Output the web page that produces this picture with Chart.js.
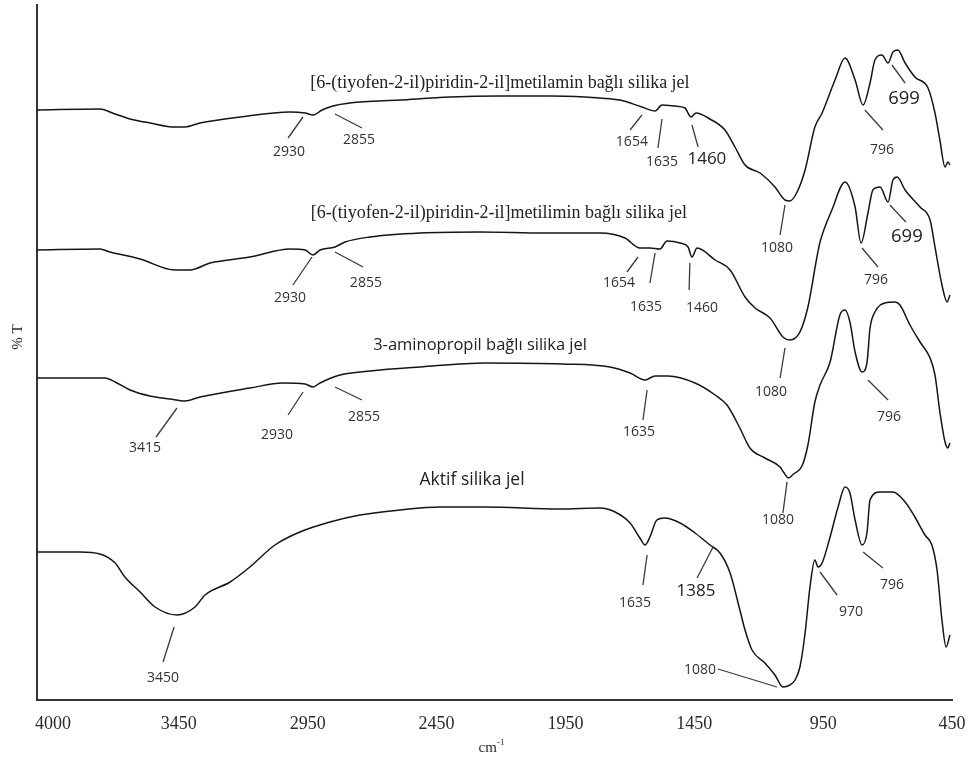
<!DOCTYPE html>
<html>
<head>
<meta charset="utf-8">
<title>FT-IR spektrumları</title>
<script src="https://cdn.jsdelivr.net/npm/chart.js@4.4.1/dist/chart.umd.min.js"></script>
<style>
  html, body { margin: 0; padding: 0; background: #fff; }
  #irChart { display: block; }
</style>
</head>
<body>
<canvas id="irChart" width="970" height="760"></canvas>
<script>
(function() {
'use strict';

// x axis ticks (cm-1)
const xTickValues = [4000, 3450, 2950, 2450, 1950, 1450, 950, 450];

// [6-(tiyofen-2-il)piridin-2-il]metilamin bağlı silika jel  (top trace, offset %T units)
const amineWn = [4000, 3756, 3697, 3639, 3562, 3465, 3426, 3368, 3212, 3018, 2960, 2929, 2894, 2852, 2786, 2592, 2398, 2204, 2010, 1874, 1816, 1738, 1653, 1602, 1575, 1525, 1486, 1463, 1443, 1389, 1331, 1292, 1253, 1195, 1137, 1098, 1079, 1051, 1020, 982, 954, 904, 865, 826, 795, 768, 749, 722, 698, 679, 660, 632, 594, 543, 516, 497, 477, 466, 458];
const amineT  = [118, 118.2, 117.2, 116.2, 115.4, 114.6, 114.6, 115.4, 116.6, 117.6, 117.4, 117, 118, 118.8, 119.4, 120, 120.6, 120.8, 120.8, 120.6, 120.4, 120, 118.6, 117.8, 119, 118.8, 118.4, 116.6, 117.4, 116.2, 114, 110.6, 107, 105.4, 102.6, 100, 99.8, 101.6, 106, 114.6, 117.4, 124, 128.4, 124, 119, 123.4, 128, 129, 127.4, 129.6, 130, 127.4, 124.6, 122.4, 117.4, 112, 106.6, 107.6, 107];

// [6-(tiyofen-2-il)piridin-2-il]metilimin bağlı silika jel
const imineWn = [4000, 3756, 3717, 3600, 3465, 3406, 3329, 3174, 3018, 2960, 2929, 2902, 2844, 2805, 2708, 2514, 2281, 2029, 1816, 1719, 1661, 1622, 1583, 1556, 1505, 1474, 1459, 1439, 1369, 1311, 1253, 1214, 1156, 1106, 1079, 1040, 1009, 974, 962, 916, 865, 826, 803, 776, 757, 729, 698, 679, 663, 632, 574, 535, 516, 489, 469, 458];
const imineT  = [90, 90.2, 89.6, 88.2, 86, 86, 87.4, 88.6, 90.2, 90, 89, 90, 90.6, 91.6, 92.6, 93.4, 93.6, 93.4, 93.4, 92.4, 90.4, 90.4, 90.2, 91.8, 91.4, 90.6, 88.6, 90.4, 88, 86, 80.6, 78.4, 76.4, 72.6, 72, 73.6, 78.6, 88.6, 91.6, 98, 103.6, 98.6, 91.4, 97.4, 102, 102.6, 99.6, 104, 104.6, 102, 98.6, 96, 90.6, 83, 79.6, 81];

// 3-aminopropil bağlı silika jel
const propylWn = [4000, 3736, 3697, 3639, 3562, 3484, 3426, 3368, 3174, 3046, 2960, 2929, 2902, 2824, 2708, 2514, 2262, 1963, 1777, 1699, 1641, 1602, 1552, 1447, 1369, 1323, 1273, 1234, 1176, 1117, 1104, 1084, 1065, 1032, 1009, 982, 962, 923, 885, 865, 846, 826, 799, 780, 768, 749, 710, 671, 652, 613, 574, 535, 516, 497, 477, 466, 458];
const propylT  = [64.4, 64.4, 63.6, 62, 60.8, 60.2, 59.8, 60.6, 62.4, 63.4, 63.2, 62.6, 63.4, 65, 65.8, 66.6, 67.4, 67.2, 66.6, 65.4, 64, 64.8, 64.8, 63.4, 61, 59, 54.4, 50.4, 48.4, 46.6, 45.6, 44.4, 45.2, 46.8, 51, 59.6, 63, 67.6, 77, 78, 75.6, 69.6, 65.6, 67.4, 74.4, 77.6, 79.4, 79.6, 79, 75, 71.6, 68.4, 65, 57.6, 51.6, 50.4, 51.4];

// Aktif silika jel
const activeWn = [4000, 3833, 3756, 3697, 3659, 3600, 3542, 3457, 3387, 3348, 3251, 3174, 3077, 2980, 2863, 2747, 2592, 2436, 2262, 1971, 1816, 1757, 1699, 1661, 1641, 1622, 1595, 1564, 1505, 1447, 1389, 1350, 1311, 1273, 1253, 1226, 1176, 1137, 1106, 1079, 1059, 1040, 1020, 1001, 982, 970, 954, 923, 892, 865, 846, 826, 799, 780, 768, 729, 679, 632, 594, 555, 528, 508, 489, 473, 458];
const activeT  = [29.6, 29.6, 29.2, 27.4, 24.6, 21.6, 18.6, 17, 18.6, 21, 23.6, 26.6, 31, 33.6, 35.6, 37, 38, 38.6, 38.6, 38.2, 38.4, 37.6, 35.4, 32.4, 31, 32.6, 36, 36.4, 35.4, 33.4, 31, 29.4, 25.4, 18, 14, 10, 7.4, 5, 2.6, 3, 4, 6.6, 13.4, 22.6, 28, 26.6, 27.4, 32.6, 38.6, 42.6, 41.4, 36, 31, 33.4, 40, 41.6, 41.6, 39.6, 36.6, 33, 31, 26, 16, 10.6, 13];

// trace names, placed in data units
const seriesNames = [
    { text: '[6-(tiyofen-2-il)piridin-2-il]metilamin bağlı silika jel', at: [2204, 123.4], font: '18px "Liberation Serif"' },
    { text: '[6-(tiyofen-2-il)piridin-2-il]metilimin bağlı silika jel', at: [2208, 97.4], font: '18px "Liberation Serif"' },
    { text: '3-aminopropil bağlı silika jel', at: [2281, 71], font: '16.5px "Open Sans"' },
    { text: 'Aktif silika jel', at: [2312, 44], font: '17.5px "Open Sans"' }
];

// peak labels with leader lines (data units)
const peakNotes = [
    { text: '2930', at: [3022, 109.6], from: [2968, 116.6], to: [3026, 112.4] },
    { text: '2855', at: [2751, 112], from: [2844, 117.2], to: [2739, 114.4] },
    { text: '1654', at: [1692, 111.6], from: [1653, 117], to: [1699, 114] },
    { text: '1635', at: [1575, 107.6], from: [1575, 116.2], to: [1591, 110.4] },
    { text: '1460', at: [1401, 108.2], from: [1459, 115], to: [1435, 110.6], big: true },
    { text: '1080', at: [1129, 90.4], from: [1098, 99], to: [1117, 93] },
    { text: '796', at: [722, 110], from: [788, 118], to: [718, 114] },
    { text: '699', at: [636, 120.2], from: [683, 127], to: [632, 123.4], big: true },

    { text: '2930', at: [3018, 80.4], from: [2933, 88.6], to: [3007, 83] },
    { text: '2855', at: [2724, 83.4], from: [2844, 89.6], to: [2735, 86.6] },
    { text: '1654', at: [1742, 83.4], from: [1668, 88.6], to: [1711, 85.6] },
    { text: '1635', at: [1637, 78.6], from: [1602, 89.4], to: [1622, 83.4] },
    { text: '1460', at: [1420, 78.4], from: [1467, 87.4], to: [1470, 82] },
    { text: '1080', at: [1152, 61.6], from: [1098, 70.4], to: [1117, 64.4] },
    { text: '796', at: [745, 84], from: [799, 90.4], to: [737, 86.6] },
    { text: '699', at: [625, 92.6], from: [691, 99], to: [629, 95.6], big: true },

    { text: '3415', at: [3581, 50.4], from: [3457, 58.4], to: [3538, 52.6] },
    { text: '2930', at: [3069, 53], from: [2968, 61.6], to: [3026, 57] },
    { text: '2855', at: [2731, 56.6], from: [2844, 62.6], to: [2739, 60] },
    { text: '1635', at: [1664, 53.6], from: [1633, 62], to: [1649, 56] },
    { text: '1080', at: [1125, 36], from: [1090, 43.6], to: [1106, 37.4] },
    { text: '796', at: [694, 56.6], from: [776, 64], to: [698, 60] },

    { text: '3450', at: [3511, 4.4], from: [3468, 14.6], to: [3511, 7.6] },
    { text: '1635', at: [1680, 19.4], from: [1633, 29], to: [1649, 23] },
    { text: '1385', at: [1443, 21.8], from: [1377, 30.6], to: [1439, 24.4], big: true },
    { text: '1080', at: [1428, 6], from: [1358, 6.2], to: [1129, 2.6] },
    { text: '970', at: [842, 17.6], from: [962, 25.6], to: [896, 21] },
    { text: '796', at: [683, 23], from: [795, 29.6], to: [718, 26.4] }
];

function toPoints(wn, t) {
    return wn.map((w, i) => ({ x: w, y: t[i] }));
}

function traceDataset(label, wn, t) {
    return {
        label: label,
        data: toPoints(wn, t),
        borderColor: '#151515',
        borderWidth: 1.5,
        pointRadius: 0,
        fill: false,
        cubicInterpolationMode: 'monotone'
    };
}

// axis texts, trace names and peak labels, all placed through the scales
const irLabels = {
    id: 'irLabels',
    afterDraw: function(chart) {
        const ctx = chart.ctx;
        const xs = chart.scales.x;
        const ys = chart.scales.y;
        const area = chart.chartArea;
        const px = p => xs.getPixelForValue(p[0]);
        const py = p => ys.getPixelForValue(p[1]);

        ctx.save();

        // leader lines
        ctx.strokeStyle = '#3a3a3a';
        ctx.lineWidth = 1.3;
        peakNotes.forEach(n => {
            ctx.beginPath();
            ctx.moveTo(px(n.from), py(n.from));
            ctx.lineTo(px(n.to), py(n.to));
            ctx.stroke();
        });

        ctx.textAlign = 'center';
        ctx.textBaseline = 'middle';
        peakNotes.forEach(n => {
            if (n.big) {
                ctx.font = (n.text.length === 3 ? '18.5px' : '17px') + ' "Open Sans"';
                ctx.fillStyle = '#222';
            } else {
                ctx.font = '14px "Open Sans"';
                ctx.fillStyle = '#333';
            }
            ctx.fillText(n.text, px(n.at), py(n.at));
        });

        ctx.fillStyle = '#222';
        seriesNames.forEach(s => {
            ctx.font = s.font;
            ctx.fillText(s.text, px(s.at), py(s.at));
        });

        // x tick labels, first one starts at the axis
        ctx.font = '18px "Liberation Serif"';
        ctx.fillStyle = '#2a2a2a';
        xTickValues.forEach((v, i) => {
            ctx.textAlign = i === 0 ? 'left' : 'center';
            ctx.fillText(String(v), i === 0 ? area.left - 2 : xs.getPixelForValue(v), area.bottom + 24);
        });

        // x title cm-1
        ctx.textAlign = 'left';
        ctx.font = '15px "Liberation Serif"';
        const cmW = ctx.measureText('cm').width;
        ctx.font = '9px "Liberation Serif"';
        const supW = ctx.measureText('-1').width;
        const tx = (area.left + area.right) / 2 - (cmW + supW) / 2 - 3;
        ctx.font = '15px "Liberation Serif"';
        ctx.fillText('cm', tx, area.bottom + 48);
        ctx.font = '9px "Liberation Serif"';
        ctx.fillText('-1', tx + cmW, area.bottom + 43);

        // y title
        ctx.translate(18, 337);
        ctx.rotate(-Math.PI / 2);
        ctx.textAlign = 'center';
        ctx.font = '15px "Liberation Serif"';
        ctx.fillText('% T', 0, 0);

        ctx.restore();
    }
};

function initIrChart() {
    const canvas = document.getElementById('irChart');
    if (!canvas) {
        console.error('canvas not found');
        return;
    }

    new Chart(canvas, {
        type: 'line',
        data: {
            datasets: [
                traceDataset('metilamin', amineWn, amineT),
                traceDataset('metilimin', imineWn, imineT),
                traceDataset('3-aminopropil', propylWn, propylT),
                traceDataset('Aktif', activeWn, activeT)
            ]
        },
        options: {
            responsive: false,
            animation: false,
            devicePixelRatio: 1,
            layout: { padding: { top: 5, right: 18, left: 0, bottom: 0 } },
            plugins: {
                legend: { display: false },
                tooltip: { enabled: false }
            },
            scales: {
                x: {
                    type: 'linear',
                    reverse: true,
                    min: 450,
                    max: 4000,
                    afterBuildTicks: function(scale) {
                        scale.ticks = xTickValues.map(v => ({ value: v }));
                    },
                    afterFit: function(scale) { scale.height = 60; },
                    ticks: { display: false },
                    grid: { display: false },
                    border: { display: true, color: '#333', width: 2 }
                },
                y: {
                    min: 0,
                    max: 139,
                    afterFit: function(scale) { scale.width = 37; },
                    ticks: { display: false },
                    grid: { display: false },
                    border: { display: true, color: '#333', width: 2 }
                }
            }
        },
        plugins: [irLabels]
    });
}

initIrChart();
})();
</script>
</body>
</html>
